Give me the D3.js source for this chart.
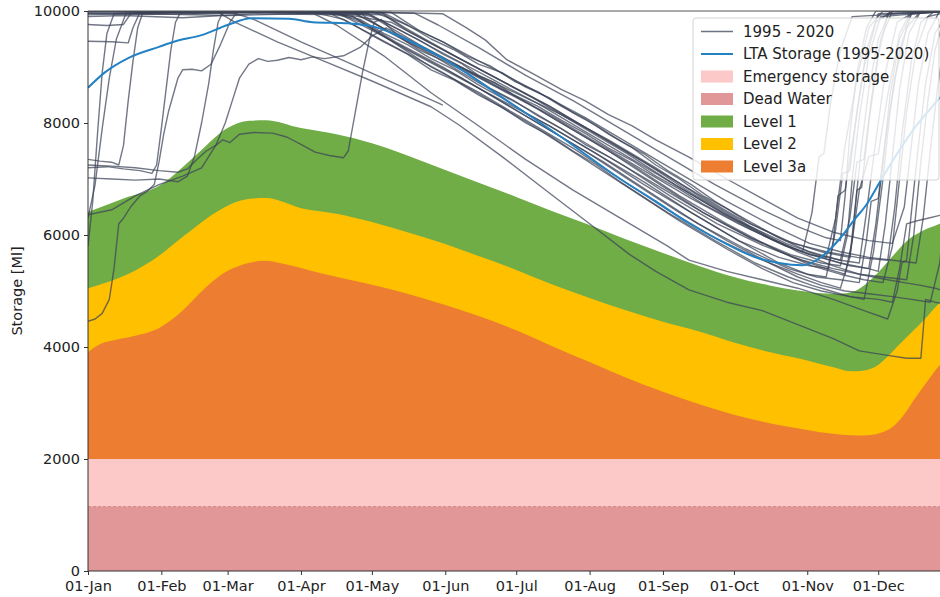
<!DOCTYPE html>
<html>
<head>
<meta charset="utf-8">
<script src="https://cdn.jsdelivr.net/npm/d3@7"></script>
<style>
  body { margin: 0; background: #fff; }
  svg { display: block; font-family: "DejaVu Sans", sans-serif; }
</style>
</head>
<body>
<svg id="chart" width="940" height="597"></svg>
<script>
// ---- Axis labels / ticks ----
const monthLabels = ["01-Jan", "01-Feb", "01-Mar", "01-Apr", "01-May", "01-Jun",
                     "01-Jul", "01-Aug", "01-Sep", "01-Oct", "01-Nov", "01-Dec"];
const monthStarts = [0, 31, 59, 90, 120, 151, 181, 212, 243, 273, 304, 334];
const yTicks = [0, 2000, 4000, 6000, 8000, 10000];

// ---- Fixed storage bands (Ml) ----
const deadWaterTop = 1150;
const emergencyTop = 2000;

// ---- Restriction level curves: [day of year, storage Ml] ----
const level1Top = [[0,6410],[15,6650],[31,6900],[45,7400],[59,7910],[68,8040],[75,8050],[90,7910],
  [105,7800],[120,7640],[135,7420],[151,7160],[166,6920],[181,6680],[196,6430],[212,6180],
  [227,5930],[243,5680],[258,5450],[273,5250],[288,5100],[300,5010],[310,4960],[318,4950],
  [323,4980],[328,5100],[333,5290],[340,5620],[346,5890],[353,6080],[360,6200],[365,6300]];
const level2Top = [[0,5050],[13,5230],[27,5540],[41,6000],[55,6430],[66,6630],[75,6660],[91,6470],
  [105,6380],[120,6230],[135,6050],[151,5840],[166,5610],[181,5375],[196,5120],[212,4875],
  [227,4660],[243,4450],[258,4280],[273,4080],[288,3910],[304,3760],[315,3640],[323,3565],
  [328,3580],[333,3650],[338,3830],[343,4050],[349,4300],[355,4560],[360,4790],[365,4950]];
const level3aTop = [[0,3910],[5,4050],[12,4130],[19,4190],[31,4360],[40,4650],[47,4950],[55,5250],
  [61,5400],[70,5520],[75,5540],[83,5480],[98,5320],[120,5110],[135,4950],[151,4750],[166,4540],
  [181,4300],[196,4020],[212,3730],[227,3460],[243,3200],[258,2980],[273,2790],[288,2640],
  [304,2520],[315,2450],[325,2420],[331,2430],[336,2480],[340,2570],[345,2800],[349,3050],
  [355,3400],[360,3680],[365,3850]];

// ---- Long-term average storage 1995-2020 ----
const ltaStorage = [[0,8630],[7,8900],[17,9160],[30,9360],[37,9460],[48,9570],[59,9750],[69,9870],
  [85,9860],[95,9800],[110,9780],[120,9730],[130,9580],[140,9380],[151,9130],[175,8460],
  [200,7750],[225,7000],[240,6600],[254,6210],[268,5880],[281,5620],[292,5500],[302,5460],
  [309,5580],[314,5760],[319,6000],[324,6280],[329,6540],[335,6970],[343,7520],[350,7950],
  [356,8250],[360,8450],[365,8590]];

// ---- Daily storage traces per year (1995 - 2020) ----
const traceYears = [1995,1996,1997,1998,1999,2000,2001,2002,2003,2004,2005,2006,2007,
                    2008,2009,2010,2011,2012,2013,2014,2015,2016,2017,2018,2019,2020];
const traces = [
  [[0,9980],[20,9990],[45,9960],[70,10000],[100,9990],[118,9950],[130,9700],[140,9480],[150,9230],[158,9060],[165,8850],[172,8720],[180,8500],[190,8300],[200,8050],[210,7820],[220,7550],[230,7330],[240,7050],[250,6820],[260,6550],[270,6330],[280,6100],[295,5800],[305,5650],[312,5600],[316,6300],[320,7600],[325,8800],[330,9700],[336,10000],[365,9990]],
  [[0,10000],[30,9990],[60,9970],[90,9990],[125,9960],[135,9750],[145,9500],[155,9300],[165,9050],[175,8900],[185,8640],[195,8450],[205,8180],[215,7950],[225,7680],[235,7450],[245,7150],[255,6900],[265,6600],[275,6350],[292,5950],[305,5700],[318,5550],[326,5500],[329,6400],[333,7700],[337,8900],[342,9800],[350,10000],[365,10000]],
  [[0,5800],[2,6600],[4,7800],[6,8900],[8,9600],[11,9950],[30,9980],[60,10000],[100,9980],[112,9900],[125,9550],[145,9000],[165,8550],[185,8050],[205,7550],[225,7000],[245,6450],[265,5950],[285,5550],[300,5300],[310,5150],[318,5050],[322,5600],[326,6800],[330,7400],[334,7450],[338,8500],[343,9600],[348,10000],[365,10000]],
  [[0,6300],[3,6900],[6,7900],[9,8800],[12,9500],[16,9950],[50,9990],[90,10000],[128,9980],[140,9650],[150,9450],[160,9200],[170,9020],[180,8750],[190,8560],[200,8300],[210,8080],[220,7800],[230,7560],[240,7250],[250,7000],[260,6700],[270,6470],[280,6200],[298,5850],[312,5700],[325,5600],[338,5550],[341,6500],[344,7800],[348,9100],[352,9800],[358,10000],[365,10000]],
  [[0,7350],[5,7320],[10,7300],[13,7250],[15,7600],[17,8400],[19,9100],[21,9700],[23,9950],[60,9990],[105,9970],[115,9800],[135,9300],[155,8850],[175,8400],[195,7950],[215,7450],[235,6900],[255,6400],[275,5900],[292,5600],[305,5450],[313,5400],[316,6100],[319,7100],[322,7150],[325,8200],[329,9300],[334,9950],[365,10000]],
  [[0,9760],[8,9740],[15,9760],[18,9950],[50,10000],[95,9980],[108,9850],[125,9450],[135,9230],[145,8950],[155,8760],[165,8500],[175,8280],[185,8000],[195,7780],[205,7500],[215,7250],[225,6950],[245,6400],[265,5900],[282,5500],[296,5250],[306,5100],[314,5000],[322,4900],[328,4850],[332,5700],[336,7000],[339,8200],[343,9300],[348,9950],[365,10000]],
  [[0,9460],[10,9450],[17,9430],[19,9700],[22,9980],[70,10000],[112,9980],[122,9750],[140,9350],[160,8950],[180,8550],[200,8150],[220,7700],[240,7200],[260,6650],[280,6150],[300,5700],[315,5450],[326,5300],[336,5250],[346,5200],[349,6000],[352,7300],[355,8400],[358,9300],[362,9900],[365,10000]],
  [[0,7200],[8,7220],[15,7180],[22,7150],[27,7100],[29,7250],[31,7900],[33,8600],[35,9300],[37,9800],[39,9970],[80,9990],[112,9960],[120,9800],[130,9580],[140,9300],[150,9120],[160,8900],[170,8620],[180,8400],[190,8130],[200,7900],[210,7620],[220,7400],[240,6900],[260,6400],[280,5950],[298,5600],[312,5400],[320,5300],[323,5900],[325,6800],[327,6850],[330,8000],[334,9200],[338,9950],[365,10000]],
  [[0,7020],[10,7000],[20,6980],[30,7000],[38,6950],[42,7050],[45,7400],[48,8000],[51,8700],[53,9300],[55,9800],[57,9980],[90,10000],[120,9990],[132,9800],[150,9450],[170,9000],[190,8550],[210,8100],[230,7600],[250,7100],[270,6600],[290,6150],[305,5850],[318,5700],[330,5600],[340,5550],[350,5500],[353,6300],[356,7500],[359,8600],[362,9500],[365,9900]],
  [[0,4460],[3,4500],[6,4600],[9,4850],[11,5400],[13,6200],[15,6300],[18,6500],[22,6700],[25,6780],[28,6900],[30,7300],[32,7800],[34,8200],[36,8500],[38,8800],[40,8950],[44,8960],[48,8930],[52,9050],[56,9400],[60,9800],[63,9980],[100,9990],[124,9970],[134,9700],[155,9200],[175,8750],[195,8300],[215,7800],[235,7300],[255,6750],[275,6250],[295,5850],[308,5650],[318,5550],[322,6300],[325,7300],[328,7350],[331,8400],[335,9500],[340,10000],[365,10000]],
  [[0,6360],[10,6450],[20,6700],[30,6900],[40,7050],[48,7200],[54,7600],[58,8000],[61,8400],[64,8800],[68,9050],[72,9150],[76,9100],[80,9120],[85,9170],[90,9130],[95,9180],[100,9150],[108,9200],[115,9350],[120,9550],[126,9700],[135,9500],[155,9050],[175,8600],[195,8150],[215,7650],[235,7150],[255,6650],[275,6200],[295,5800],[310,5600],[322,5450],[330,5400],[333,6200],[336,7300],[339,8500],[343,9500],[348,9950],[365,10000]],
  [[0,7250],[10,7230],[20,7200],[30,7150],[38,7120],[42,7180],[46,7350],[50,7500],[54,7600],[57,7700],[60,7650],[64,7800],[70,7830],[78,7820],[84,7750],[90,7620],[96,7480],[102,7420],[108,7380],[110,7500],[113,8200],[116,8900],[119,9500],[121,9800],[124,9850],[130,9600],[150,9150],[170,8700],[190,8250],[210,7750],[230,7250],[250,6700],[270,6200],[290,5750],[306,5450],[318,5300],[328,5200],[336,5150],[340,5800],[343,7000],[346,8200],[350,9300],[355,9900],[365,10000]],
  [[0,10000],[30,9990],[55,9980],[62,9800],[80,9450],[100,9100],[120,8750],[145,8290],[157,7960],[175,7400],[195,6750],[212,6200],[229,5650],[240,5350],[254,5020],[270,4800],[285,4650],[300,4400],[315,4150],[326,3930],[338,3850],[346,3800],[352,3800],[353,4300],[354,4850],[358,4800],[365,4750]],
  [[0,10000],[50,9990],[95,9960],[105,9750],[125,9200],[145,8540],[165,7950],[185,7350],[205,6800],[225,6300],[245,5800],[254,5550],[270,5350],[285,5200],[300,5050],[315,4850],[328,4650],[338,4500],[342,5000],[344,5500],[346,5550],[348,6400],[351,7600],[354,8700],[358,9600],[363,9950],[365,10000]],
  [[0,10000],[60,9990],[120,9980],[150,9950],[160,9700],[168,9480],[177,9130],[188,8880],[200,8600],[210,8400],[220,8150],[230,7950],[240,7700],[254,7390],[270,7000],[285,6650],[300,6300],[315,6050],[330,5900],[340,5850],[345,6500],[348,7600],[351,8700],[355,9600],[360,10000],[365,10000]],
  [[0,10000],[100,9990],[138,9960],[148,9750],[165,9350],[185,8850],[205,8400],[225,7900],[245,7400],[265,6900],[285,6450],[300,6150],[312,5950],[318,5900],[320,6700],[322,7800],[325,8900],[329,9700],[333,10000],[365,10000]],
  [[0,9950],[20,9970],[60,10000],[110,9990],[120,9900],[140,9400],[160,8950],[180,8500],[200,8000],[220,7500],[240,6950],[260,6400],[280,5950],[297,5650],[310,5500],[318,5450],[321,6000],[323,7000],[326,8100],[330,9200],[335,9900],[365,10000]],
  [[0,10000],[40,9980],[100,9970],[115,9850],[125,9600],[135,9400],[145,9150],[155,8950],[165,8680],[175,8450],[185,8180],[195,7950],[215,7450],[235,6950],[255,6400],[275,5900],[292,5500],[304,5300],[312,5250],[315,5900],[317,6700],[320,6800],[324,7900],[328,9000],[333,9800],[340,10000],[365,10000]],
  [[0,9900],[15,9920],[40,9880],[70,9950],[110,9930],[128,9800],[148,9350],[168,8900],[188,8450],[208,7950],[228,7450],[248,6900],[268,6400],[288,5950],[305,5650],[318,5500],[330,5400],[334,5350],[337,6200],[340,7400],[343,8600],[347,9600],[352,10000],[365,10000]],
  [[0,10000],[55,9990],[105,9970],[118,9700],[138,9250],[158,8800],[178,8300],[198,7800],[218,7300],[238,6750],[258,6200],[278,5750],[296,5400],[308,5250],[318,5200],[326,5150],[329,5900],[331,6600],[334,6650],[337,7700],[341,8800],[346,9700],[352,10000],[365,10000]],
  [[0,9960],[30,9940],[80,9980],[118,9960],[130,9700],[150,9250],[170,8800],[190,8350],[210,7850],[230,7350],[250,6850],[270,6350],[290,5900],[302,5700],[306,6400],[309,7400],[311,7450],[314,8400],[318,9300],[323,9900],[365,10000]],
  [[0,10000],[60,9980],[100,9990],[112,9900],[130,9450],[150,9000],[170,8500],[190,8000],[210,7500],[230,6950],[250,6400],[270,5900],[288,5500],[300,5250],[310,5100],[320,5000],[330,4950],[340,4900],[348,4850],[356,4800],[360,5500],[362,6400],[365,7000]],
  [[0,9990],[40,10000],[90,9970],[116,9930],[126,9650],[146,9200],[166,8700],[186,8250],[206,7750],[226,7250],[246,6700],[266,6200],[286,5800],[302,5550],[315,5400],[326,5300],[338,5200],[345,5150],[352,5100],[358,5050],[362,5000],[365,5000]],
  [[0,10000],[50,9990],[102,9960],[110,9800],[130,9350],[150,8900],[170,8400],[190,7900],[210,7350],[230,6800],[250,6250],[270,5750],[285,5400],[298,5150],[310,5000],[322,4900],[334,4850],[340,4800],[343,5400],[346,6200],[350,6250],[355,6300],[360,6350],[365,6400]],
  [[0,9930],[25,9950],[60,9920],[100,9960],[125,9930],[135,9650],[155,9200],[175,8750],[195,8300],[215,7800],[235,7300],[255,6800],[275,6300],[295,5900],[310,5700],[322,5600],[324,6400],[327,7600],[330,8600],[334,9500],[339,10000],[365,10000]],
  [[0,9990],[40,9980],[62,9960],[70,9850],[90,9450],[110,9080],[130,8700],[150,8320]]
];

// ---- Colours ----
const colors = {
  trace: "#3b4357",
  lta: "#2382c4",
  emergency: "#fdc8c8",
  dead: "#e19698",
  level1: "#70ad47",
  level2: "#ffc000",
  level3a: "#ed7d31"
};

// ---- Layout ----
const svg = d3.select("#chart");
const plotLeft = 88, plotTop = 11, plotBottom = 571;
const plotRight = 88 + 365 * 2.366;

const x = d3.scaleLinear().domain([0, 365]).range([plotLeft, plotRight]);
const y = d3.scaleLinear().domain([0, 10000]).range([plotBottom, plotTop]);

svg.append("defs").append("clipPath").attr("id", "plot-clip")
  .append("rect")
  .attr("x", plotLeft).attr("y", plotTop)
  .attr("width", plotRight - plotLeft).attr("height", plotBottom - plotTop);

const plot = svg.append("g").attr("clip-path", "url(#plot-clip)");

const areaFromZero = d3.area()
  .x(d => x(d[0])).y0(y(0)).y1(d => y(d[1]))
  .curve(d3.curveMonotoneX);

// Stacked bands: each later fill overpaints the lower part of the previous one
plot.append("path").datum(level1Top).attr("d", areaFromZero).attr("fill", colors.level1);
plot.append("path").datum(level2Top).attr("d", areaFromZero).attr("fill", colors.level2);
plot.append("path").datum(level3aTop).attr("d", areaFromZero).attr("fill", colors.level3a);

plot.append("rect")
  .attr("x", x(0)).attr("width", x(365) - x(0))
  .attr("y", y(emergencyTop)).attr("height", y(0) - y(emergencyTop))
  .attr("fill", colors.emergency);
plot.append("rect")
  .attr("x", x(0)).attr("width", x(365) - x(0))
  .attr("y", y(deadWaterTop)).attr("height", y(0) - y(deadWaterTop))
  .attr("fill", colors.dead);
plot.append("line")
  .attr("x1", x(0)).attr("x2", x(365))
  .attr("y1", y(deadWaterTop)).attr("y2", y(deadWaterTop))
  .attr("stroke", "#d48a8c").attr("stroke-width", 1).attr("stroke-dasharray", "3,2");

// Yearly storage traces
const traceLine = d3.line().x(d => x(d[0])).y(d => y(d[1]));
plot.append("g").selectAll("path")
  .data(traces)
  .join("path")
  .attr("d", traceLine)
  .attr("fill", "none")
  .attr("stroke", colors.trace)
  .attr("stroke-opacity", 0.72)
  .attr("stroke-width", 1.4)
  .attr("stroke-linejoin", "round");

// Long-term average
plot.append("path").datum(ltaStorage)
  .attr("d", d3.line().x(d => x(d[0])).y(d => y(d[1])).curve(d3.curveMonotoneX))
  .attr("fill", "none")
  .attr("stroke", colors.lta)
  .attr("stroke-width", 2);

// ---- Axes ----
const tickFont = "14.5px";
const yAxis = svg.append("g")
  .attr("transform", `translate(${plotLeft},0)`)
  .call(d3.axisLeft(y).tickValues(yTicks).tickFormat(d3.format("d")).tickSize(4).tickPadding(4));
const xAxis = svg.append("g")
  .attr("transform", `translate(0,${plotBottom})`)
  .call(d3.axisBottom(x).tickValues(monthStarts)
        .tickFormat((d, i) => monthLabels[i]).tickSize(4).tickPadding(5.5));
[yAxis, xAxis].forEach(g => {
  g.select(".domain").remove();
  g.selectAll(".tick line").attr("stroke", "#333");
  g.selectAll(".tick text").attr("fill", "#222")
    .style("font-size", tickFont).style("font-family", "DejaVu Sans, sans-serif");
});

// Spines
svg.append("line").attr("x1", plotLeft).attr("x2", plotLeft)
  .attr("y1", plotTop).attr("y2", plotBottom).attr("stroke", "#333").attr("stroke-width", 1);
svg.append("line").attr("x1", plotLeft).attr("x2", plotRight)
  .attr("y1", plotBottom).attr("y2", plotBottom).attr("stroke", "#333").attr("stroke-width", 1);
svg.append("line").attr("x1", plotLeft).attr("x2", plotRight)
  .attr("y1", plotTop).attr("y2", plotTop).attr("stroke", "#555").attr("stroke-width", 1.2);

svg.append("text")
  .attr("transform", `translate(17,${(plotTop + plotBottom) / 2}) rotate(-90)`)
  .attr("text-anchor", "middle").attr("dominant-baseline", "central")
  .style("font-size", "14.5px").attr("fill", "#222")
  .text("Storage [Ml]");

// ---- Legend ----
const legendItems = [
  { label: "1995 - 2020", type: "line", color: colors.trace, opacity: 0.75 },
  { label: "LTA Storage (1995-2020)", type: "line", color: colors.lta, opacity: 1 },
  { label: "Emergency storage", type: "patch", color: colors.emergency },
  { label: "Dead Water", type: "patch", color: colors.dead },
  { label: "Level 1", type: "patch", color: colors.level1 },
  { label: "Level 2", type: "patch", color: colors.level2 },
  { label: "Level 3a", type: "patch", color: colors.level3a }
];
const legend = svg.append("g").attr("transform", "translate(693,18)");
legend.append("rect")
  .attr("width", 246).attr("height", 162).attr("rx", 3)
  .attr("fill", "#fff").attr("fill-opacity", 0.82)
  .attr("stroke", "#d3d3d3").attr("stroke-width", 1);
const rows = legend.selectAll("g.item").data(legendItems).join("g")
  .attr("class", "item")
  .attr("transform", (d, i) => `translate(0,${13.5 + i * 22.5})`);
rows.filter(d => d.type === "line").append("line")
  .attr("x1", 8).attr("x2", 40).attr("y1", 0).attr("y2", 0)
  .attr("stroke", d => d.color).attr("stroke-opacity", d => d.opacity)
  .attr("stroke-width", d => d.color === colors.lta ? 2 : 1.5);
rows.filter(d => d.type === "patch").append("rect")
  .attr("x", 8).attr("y", -6).attr("width", 32).attr("height", 12)
  .attr("fill", d => d.color);
rows.append("text")
  .attr("x", 50).attr("y", 0).attr("dominant-baseline", "central")
  .style("font-size", "15px").attr("fill", "#222")
  .text(d => d.label);
</script>
</body>
</html>
